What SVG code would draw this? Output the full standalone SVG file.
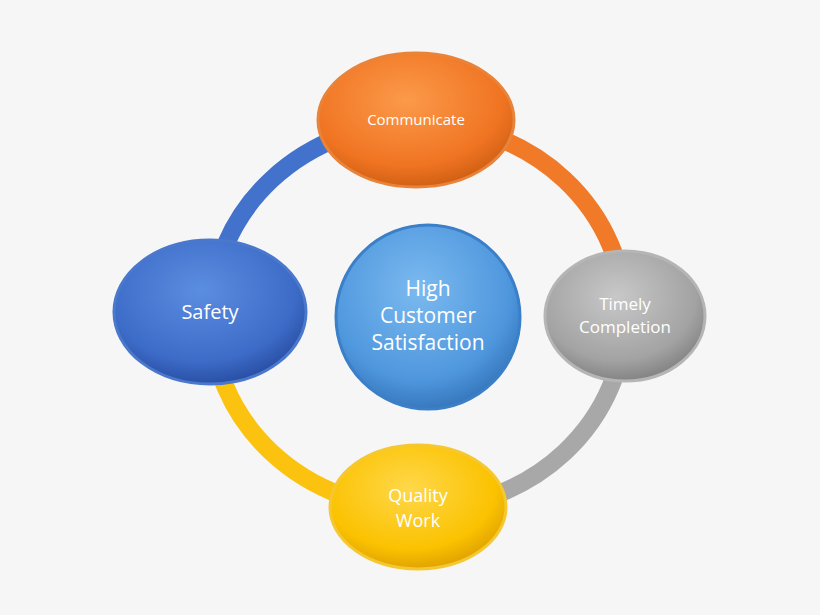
<svg xmlns="http://www.w3.org/2000/svg" width="820" height="615" viewBox="0 0 820 615">
<defs>
<radialGradient id="gO" cx="0.45" cy="0.35" r="0.7"><stop offset="0" stop-color="#fb9a4a"/><stop offset="0.7" stop-color="#f07422"/><stop offset="1" stop-color="#c85a10"/></radialGradient>
<radialGradient id="gG" cx="0.45" cy="0.35" r="0.7"><stop offset="0" stop-color="#c8c8c8"/><stop offset="0.7" stop-color="#a3a3a3"/><stop offset="1" stop-color="#7a7a7a"/></radialGradient>
<radialGradient id="gY" cx="0.45" cy="0.35" r="0.7"><stop offset="0" stop-color="#ffd84a"/><stop offset="0.7" stop-color="#fbc200"/><stop offset="1" stop-color="#d89a00"/></radialGradient>
<radialGradient id="gB" cx="0.45" cy="0.35" r="0.7"><stop offset="0" stop-color="#5b8de0"/><stop offset="0.7" stop-color="#3d6cc8"/><stop offset="1" stop-color="#24479a"/></radialGradient>
<radialGradient id="gC" cx="0.45" cy="0.35" r="0.7"><stop offset="0" stop-color="#7bbaf0"/><stop offset="0.7" stop-color="#4f97dd"/><stop offset="1" stop-color="#2f6fb5"/></radialGradient>
<style>
.t{font-family:"Open Sans","DejaVu Sans",sans-serif;fill:#fff;text-anchor:middle}
.arc{fill:none;stroke-width:18}
.rim{stroke-width:3}
</style>
</defs>
<rect width="820" height="615" fill="#f6f6f6"/>
<g id="connectors">
<path class="arc" stroke="#f07a28" d="M418,123 A207,193 0 0 1 625,316"/>
<path class="arc" stroke="#a8a8a8" d="M625,316 A207,193 0 0 1 418,509"/>
<path class="arc" stroke="#fbc210" d="M418,509 A207,193 0 0 1 211,316"/>
<path class="arc" stroke="#4272cc" d="M211,316 A207,193 0 0 1 418,123"/>
</g>
<g id="center"><circle cx="428" cy="317" r="92" fill="url(#gC)" stroke="#3a7fc8" class="rim"/>
<text class="t" font-size="21" x="428" y="296">High</text><text class="t" font-size="21" x="428" y="323">Customer</text><text class="t" font-size="21" x="428" y="350">Satisfaction</text></g>
<g id="communicate"><ellipse cx="416" cy="120" rx="98" ry="67" fill="url(#gO)" stroke="#e8843a" class="rim"/><text class="t" font-size="15" x="416" y="125">Communicate</text></g>
<g id="timely"><ellipse cx="625" cy="316" rx="80" ry="65" fill="url(#gG)" stroke="#b5b5b5" class="rim"/><text class="t" font-size="17" x="625" y="310">Timely</text><text class="t" font-size="17" x="625" y="333">Completion</text></g>
<g id="quality"><ellipse cx="418" cy="507" rx="88" ry="62" fill="url(#gY)" stroke="#f5c832" class="rim"/><text class="t" font-size="18" x="418" y="502">Quality</text><text class="t" font-size="18" x="418" y="527">Work</text></g>
<g id="safety"><ellipse cx="210" cy="312" rx="96" ry="72" fill="url(#gB)" stroke="#4a78cc" class="rim"/><text class="t" font-size="20" x="210" y="319">Safety</text></g>
</svg>
